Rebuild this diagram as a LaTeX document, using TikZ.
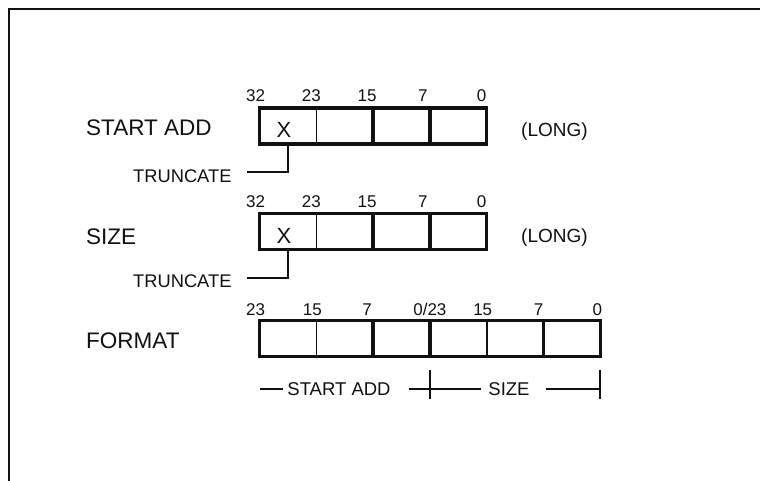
\documentclass[tikz,border=0pt]{standalone}
\usepackage{fontspec}
\setmainfont{Liberation Sans}
\usepackage{tikz}
\usetikzlibrary{positioning, calc}
\definecolor{cInk}{HTML}{111111}
\tikzset{
  cell/.style={rectangle, draw=cInk, line width=1.6pt, minimum width=56.8pt, minimum height=36pt,
    inner sep=0pt, outer sep=0pt},
  regbox/.style={draw=cInk, line width=3.4pt, line join=miter},
  bitno/.style={anchor=base, inner sep=0pt, text=cInk, font=\fontsize{17}{20}\selectfont},
  rowlbl/.style={anchor=west, inner sep=0pt, text=cInk, font=\fontsize{22.5}{26}\selectfont},
  xmark/.style={inner sep=0pt, text=cInk, font=\fontsize{22}{24}\selectfont},
  trunc/.style={anchor=west, inner sep=0pt, text=cInk, font=\fontsize{18.3}{20}\selectfont},
  longtag/.style={anchor=west, inner sep=0pt, text=cInk, font=\fontsize{19}{22}\selectfont},
  lead/.style={draw=cInk, line width=2.4pt},
  dimtxt/.style={inner xsep=4pt, inner ysep=0pt, text=cInk, font=\fontsize{18.5}{21}\selectfont},
  dim/.style={draw=cInk, line width=1.8pt},
  tick/.style={draw=cInk, line width=1.6pt},
}

\begin{document}
\begin{tikzpicture}[x=1pt, y=-1pt]
\useasboundingbox (0,0) rectangle (760,481);
% frame
\draw[cInk, line width=1.5pt] (760,9) -| (9,481);
% start address register
\node[rowlbl] (salbl) at (86,128) {START ADD};
\node[cell] (sa1) at (287.9,126) {};
\node[cell, right=0pt of sa1] (sa2) {};
\node[cell, right=0pt of sa2] (sa3) {};
\node[cell, right=0pt of sa3] (sa4) {};
\draw[regbox] (sa1.north west) rectangle (sa4.south east);
\draw[regbox] (sa2.north east) -- (sa2.south east);
\draw[regbox] (sa3.north east) -- (sa3.south east);
\node[bitno] (sab32) at ([xshift=-4pt, yshift=6pt]sa1.north west) {32};
\node[bitno] (sab23) at ([xshift=-5pt, yshift=6pt]sa1.north east) {23};
\node[bitno] (sab15) at ([xshift=-6pt, yshift=6pt]sa2.north east) {15};
\node[bitno] (sab7) at ([xshift=-7pt, yshift=6pt]sa3.north east) {7};
\node[bitno] (sab0) at ([xshift=-5pt, yshift=6pt]sa4.north east) {0};
\node[xmark] (sax) at ([xshift=-4pt, yshift=-4pt]sa1.center) {X};
\node[longtag] (salong) at (521,132) {(LONG)};
\node[trunc] (satr) at (133,176) {TRUNCATE};
\coordinate (satrend) at (247,172);
\draw[lead] (sa1.south) |- (satrend);
% size register
\node[rowlbl] (szlbl) at (86,237) {SIZE};
\node[cell] (sz1) at (287.9,231.5) {};
\node[cell, right=0pt of sz1] (sz2) {};
\node[cell, right=0pt of sz2] (sz3) {};
\node[cell, right=0pt of sz3] (sz4) {};
\draw[regbox] (sz1.north west) rectangle (sz4.south east);
\draw[regbox] (sz2.north east) -- (sz2.south east);
\draw[regbox] (sz3.north east) -- (sz3.south east);
\node[bitno] (szb32) at ([xshift=-4pt, yshift=6pt]sz1.north west) {32};
\node[bitno] (szb23) at ([xshift=-5pt, yshift=6pt]sz1.north east) {23};
\node[bitno] (szb15) at ([xshift=-6pt, yshift=6pt]sz2.north east) {15};
\node[bitno] (szb7) at ([xshift=-7pt, yshift=6pt]sz3.north east) {7};
\node[bitno] (szb0) at ([xshift=-5pt, yshift=6pt]sz4.north east) {0};
\node[xmark] (szx) at ([xshift=-4pt, yshift=-4pt]sz1.center) {X};
\node[longtag] (szlong) at (521,238) {(LONG)};
\node[trunc] (sztr) at (133,281) {TRUNCATE};
\coordinate (sztrend) at (247,278);
\draw[lead] (sz1.south) |- (sztrend);
% format register
\node[rowlbl] (fmlbl) at (86,341) {FORMAT};
\node[cell] (fm1) at (287.9,338.5) {};
\node[cell, right=0pt of fm1] (fm2) {};
\node[cell, right=0pt of fm2] (fm3) {};
\node[cell, right=0pt of fm3] (fm4) {};
\node[cell, right=0pt of fm4] (fm5) {};
\node[cell, right=0pt of fm5] (fm6) {};
\draw[regbox] (fm1.north west) rectangle (fm6.south east);
\draw[regbox] (fm2.north east) -- (fm2.south east);
\draw[regbox] (fm3.north east) -- (fm3.south east);
\draw[regbox] (fm5.north east) -- (fm5.south east);
\node[bitno] (fmb23) at ([xshift=-4pt, yshift=5pt]fm1.north west) {23};
\node[bitno] (fmb15) at ([xshift=-4pt, yshift=5pt]fm1.north east) {15};
\node[bitno] (fmb7) at ([xshift=-6pt, yshift=5pt]fm2.north east) {7};
\node[bitno] (fmb023) at ([yshift=5pt]fm3.north east) {0/23};
\node[bitno] (fmb15b) at ([xshift=-4pt, yshift=5pt]fm4.north east) {15};
\node[bitno] (fmb7b) at ([xshift=-5pt, yshift=5pt]fm5.north east) {7};
\node[bitno] (fmb0) at ([xshift=-3pt, yshift=5pt]fm6.north east) {0};
% field extents
\coordinate (dimL) at (260,389);
\coordinate (dimM) at (430,389);
\coordinate (dimR) at (600,389);
\node[dimtxt] (dsa) at (339,389) {START ADD};
\node[dimtxt] (dsz) at (509,389) {SIZE};
\draw[dim] (dimL) -- (dsa.west);
\draw[dim] ([xshift=14pt]dsa.east) -- (dimM);
\draw[dim] (dimM) -- ([xshift=-3pt]dsz.west);
\draw[dim] ([xshift=12pt]dsz.east) -- (dimR);
\draw[tick] ([yshift=19pt]dimM) -- ([yshift=-10pt]dimM);
\draw[tick] ([yshift=19pt]dimR) -- ([yshift=-10pt]dimR);
\end{tikzpicture}
\end{document}
